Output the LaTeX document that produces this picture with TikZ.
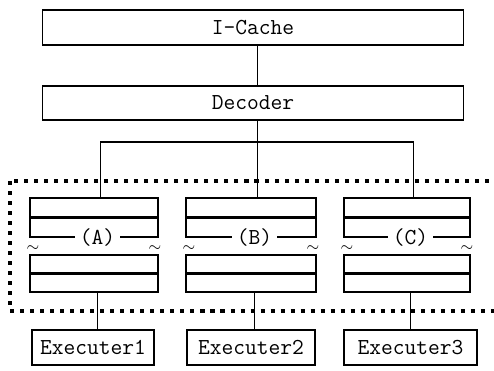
\documentclass[tikz,border=0pt]{standalone}
\usepackage{tikz}
\usetikzlibrary{calc}

\begin{document}
\begin{tikzpicture}[x=0.02cm, y=-0.02cm,
    unit/.style={draw, line width=0.6pt, inner sep=0pt, minimum height=0.7cm, font=\fontsize{13}{15}\selectfont\ttfamily},
    half/.style={draw, line width=0.6pt, inner sep=0pt, minimum height=0.78cm},
    fence/.style={line width=2.3pt, dash pattern=on 2.3pt off 3.4pt}]
\useasboundingbox (0,0) rectangle (494,371);

\node[unit, minimum width=8.44cm] (cache) at (253,27.5) {I-Cache};
\node[unit, minimum width=8.44cm, minimum height=0.68cm] (dec) at (253,103) {Decoder};
\draw[line width=0.6pt] ([xshift=0.09cm]cache.south) -- ([xshift=0.09cm]dec.north);

\coordinate (bus) at (0,142);

% three queues, each one cut in two halves
\foreach \q/\x/\w/\e/\ew [count=\i] in {A/94/2.56/93/2.44, B/251/2.6/251/2.56, C/407/2.52/410.5/2.66} {
    \node[half, minimum width=\w cm] (top\q) at (\x,217.5) {};
    \node[half, minimum width=\w cm, minimum height=0.74cm] (bot\q) at (\x,273.5) {};
    \draw[line width=1.4pt] (top\q.west) -- (top\q.east);
    \draw[line width=1.4pt] (bot\q.west) -- (bot\q.east);
    \node[fill=white, inner sep=1pt, minimum width=0.9cm, font=\fontsize{13}{15}\selectfont\ttfamily] (lab\q) at ([xshift=0.07cm]top\q.south) {(\q)};
    \node[inner sep=0pt, font=\small] (cutl\q) at ([xshift=0.07cm, yshift=-0.22cm]top\q.south west) {$\sim$};
    \node[inner sep=0pt, font=\small] (cutr\q) at ([xshift=-0.07cm, yshift=-0.22cm]top\q.south east) {$\sim$};
    \node[unit, minimum width=\ew cm] (exe\i) at (\e,347.5) {Executer\i};
    \coordinate (tap\q) at ([xshift=0.13cm]top\q.north);
    \coordinate (out\q) at ([xshift=0.07cm]bot\q.south);
    \draw[line width=0.6pt] (out\q) -- (out\q |- exe\i.north);
}

% decoder fans out to the queues
\draw[line width=0.6pt] ([xshift=0.09cm]dec.south) -- ([xshift=0.09cm]dec.south |- bus);
\draw[line width=0.6pt] (tapA) |- (tapC |- bus) -- (tapC);
\draw[line width=0.6pt] (tapB) -- (tapB |- bus);

\draw[fence] (10,181) rectangle (510,311);
\end{tikzpicture}
\end{document}
